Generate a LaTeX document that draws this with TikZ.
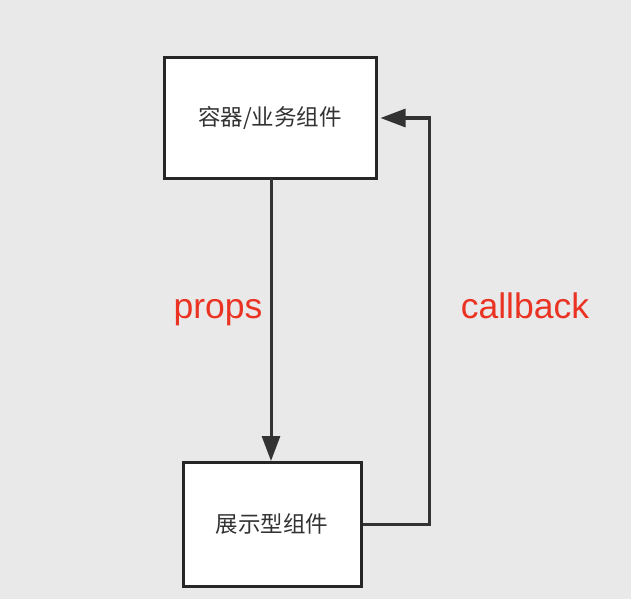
\documentclass[tikz,border=0pt]{standalone}
\usepackage{fontspec}
\setmainfont{Liberation Sans}
\newfontfamily\cjk{Noto Sans CJK SC}
\usetikzlibrary{arrows.meta}
\definecolor{bg}{HTML}{E9E9E9}
\definecolor{labelred}{HTML}{EA3323}
\tikzset{
  box/.style={draw=black!85, fill=white, line width=3pt, inner sep=0pt,
    font=\cjk\fontsize{22.5}{26}\selectfont, text=black!80},
  link/.style={draw=black!80, line width=3pt,
    -{Triangle[length=25pt,width=18pt]}},
  tag/.style={text=labelred, font=\fontsize{35.5}{40}\selectfont}
}
\begin{document}
\begin{tikzpicture}[x=1pt,y=-1pt]
      \fill[bg] (0,0) rectangle (631,599);
      \useasboundingbox (0,0) rectangle (631,599);
      \draw
        (270,118) node[box, minimum width=212pt, minimum height=120pt] (container){容器/业务组件}
        (272,524) node[box, minimum width=178pt, minimum height=124pt] (view){展示型组件};
      \begin{scope}[link]
        \draw (271,178) to (271,461);
        \draw (view.east) -- (429,524) |- ([xshift=3pt]container.east);
      \end{scope}
      \node[tag] (props) at (218,313) {props};
      \node[tag] (callback) at (525,306) {callback};
    \end{tikzpicture}
\end{document}
